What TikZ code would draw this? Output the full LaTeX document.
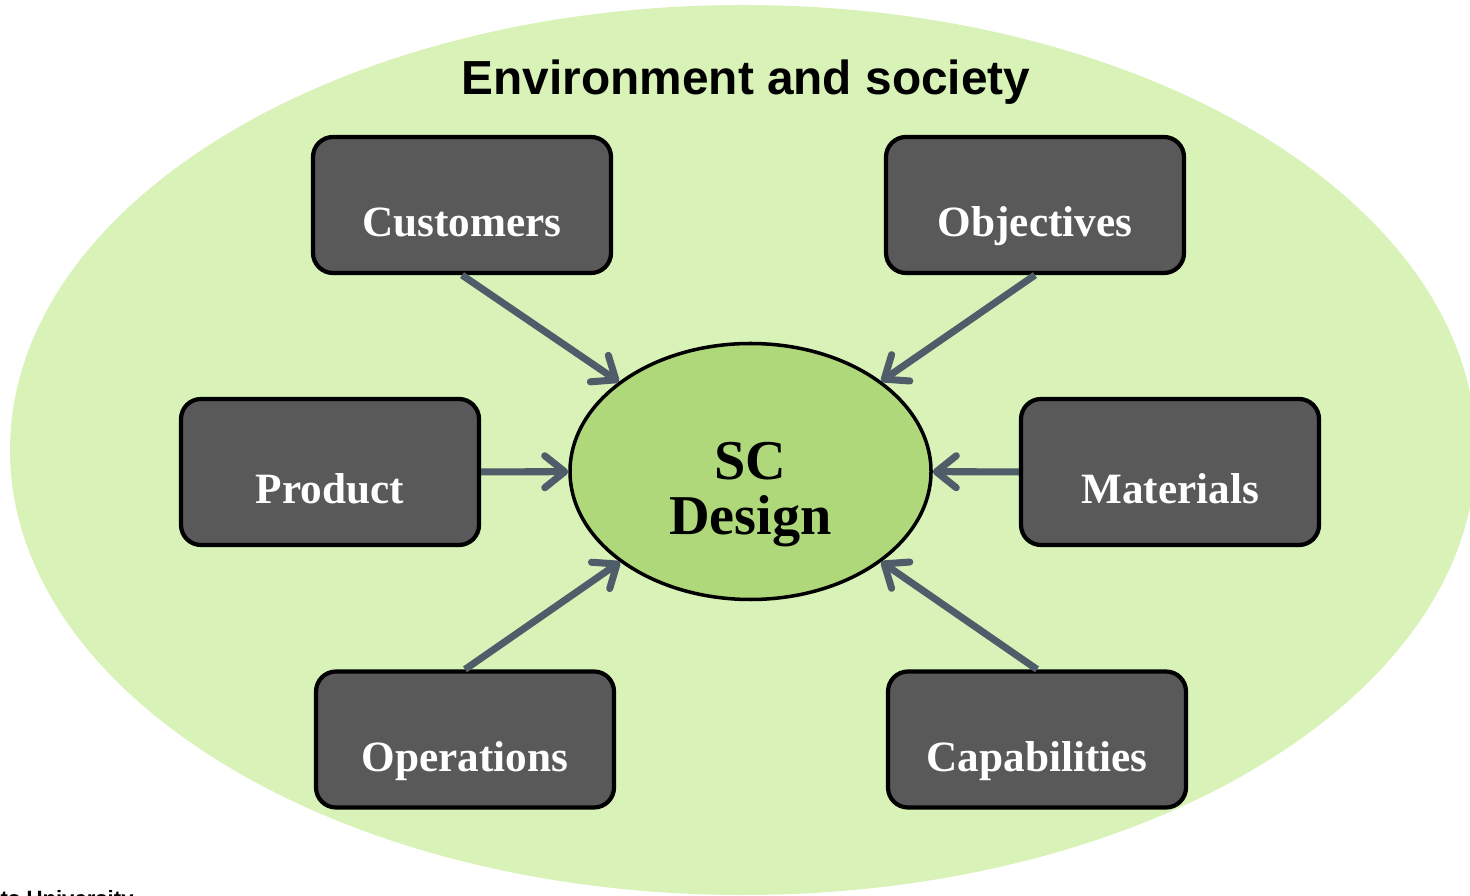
\documentclass[tikz,border=0pt]{standalone}
\usepackage{fontspec}
\setmainfont{Liberation Serif}
\setsansfont{Liberation Sans}
\usepackage{tikz}
\usetikzlibrary{shapes.geometric,arrows.meta,positioning}
\definecolor{EnvGreen}{HTML}{D8F2B8}
\definecolor{CoreGreen}{HTML}{AFD87B}
\definecolor{BoxGray}{HTML}{595959}
\definecolor{ArrowSlate}{HTML}{4F5D6A}

\begin{document}
\begin{tikzpicture}[
    driver/.style={rectangle, rounded corners=0.2cm, draw=black, line width=1.2pt,
      fill=BoxGray, text=white, font=\fontsize{12.3}{14}\selectfont\bfseries,
      minimum width=2.98cm, minimum height=1.36cm, inner sep=0pt,
      text height=0.64cm, text depth=0cm},
    feed/.style={draw=ArrowSlate, line width=2pt,
      -{Straight Barb[round,length=0.2cm,width=0.32cm]}}]
  \useasboundingbox (0,0) rectangle (14.7,-8.96);

  % Environment
  \fill[EnvGreen] (7.43,-4.50) ellipse (7.33cm and 4.45cm);
  \node[font=\sffamily\bfseries\fontsize{13.6}{16}\selectfont,anchor=base] (env)
    at (7.46,-0.95) {Environment and society};

  % SC design in the middle
  \node[ellipse,draw=black,line width=1pt,fill=CoreGreen,
        minimum width=3.61cm,minimum height=2.56cm] (sc) at (7.505,-4.715) {};
  \node[font=\fontsize{16}{15.6}\selectfont\bfseries,align=center] (sclabel)
    at ([yshift=-0.23cm]sc.center) {SC\\Design};

  % Driving factors
  \node[driver] (cust) at (4.62,-2.05) {Customers};
  \node[driver] (obj)  at (10.35,-2.05) {Objectives};
  \node[driver,minimum height=1.46cm] (prod) at (3.30,-4.72) {Product};
  \node[driver,minimum height=1.46cm] (mat)  at (11.70,-4.72) {Materials};
  \node[driver] (ops) at (4.65,-7.395) {Operations};
  \node[driver] (cap) at (10.37,-7.395) {Capabilities};

  % Arrows into the core
  \draw[feed] (cust.south) -- (sc);
  \draw[feed] (obj.south) -- (sc);
  \draw[feed] (prod) -- (sc);
  \draw[feed] (mat) -- (sc);
  \draw[feed] (ops.north) -- (sc);
  \draw[feed] (cap.north) -- (sc);

  % Footer
  \node[font=\sffamily\bfseries\fontsize{6.3}{7}\selectfont,anchor=base west,inner sep=0pt]
    (footer) at (0,-9.06) {ts University};
\end{tikzpicture}
\end{document}
